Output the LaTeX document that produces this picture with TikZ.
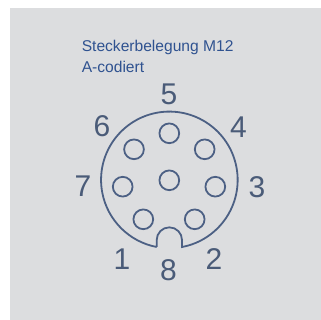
\documentclass[tikz,border=0pt]{standalone}
\usepackage{fontspec}
\setmainfont{Liberation Sans}
\definecolor{panel}{HTML}{DCDDDF}
\definecolor{pinline}{HTML}{4C6084}
\definecolor{numcol}{HTML}{4A5B78}
\definecolor{titlecol}{HTML}{2F5290}
\tikzset{
  pin/.style={circle,draw=pinline,line width=1.35pt,minimum size=14.8pt,inner sep=0pt},
  num/.style={text=numcol,font=\fontsize{22.5}{24}\selectfont,inner sep=0pt,anchor=center},
  title/.style={text=titlecol,font=\fontsize{11.7}{13}\selectfont,inner sep=0pt,anchor=base west},
  body/.style={draw=pinline,line width=1.35pt}
}
\begin{document}
\begin{tikzpicture}[x=0.75pt,y=-0.75pt]
\useasboundingbox (0,0) rectangle (321,320);
\fill[white] (0,0) rectangle (321,320);
\fill[panel] (10,8) rectangle (321,320);
\node[title] (t1) at (81.5,52) {Steckerbelegung M12};
\node[title] (t2) at (81.5,73) {A-codiert};
\draw[body] (156.7,247) -- (156.7,240) arc[start angle=180,end angle=0,radius=9.49pt] -- (182,247)
  arc[start angle=-79.33,end angle=259.33,radius=51.22pt];
\node[pin] (p5) at (169.3,133.3) {};
\node[pin] (p0) at (169.3,180.3) {};
\node[pin] (p6) at (134,149.3) {};
\node[pin] (p4) at (204.7,149.3) {};
\node[pin] (p7) at (122.7,186.7) {};
\node[pin] (p3) at (215.3,186.7) {};
\node[pin] (p1) at (143.3,219.3) {};
\node[pin] (p2) at (194.7,219.3) {};
\node[num] (n5) at (169,94) {5};
\node[num] (n6) at (102,126.5) {6};
\node[num] (n4) at (238.5,127) {4};
\node[num] (n7) at (83,186.5) {7};
\node[num] (n3) at (257,187) {3};
\node[num] (n1) at (122,259.5) {1};
\node[num] (n2) at (214,259.5) {2};
\node[num] (n8) at (168.5,270.5) {8};
\end{tikzpicture}
\end{document}
